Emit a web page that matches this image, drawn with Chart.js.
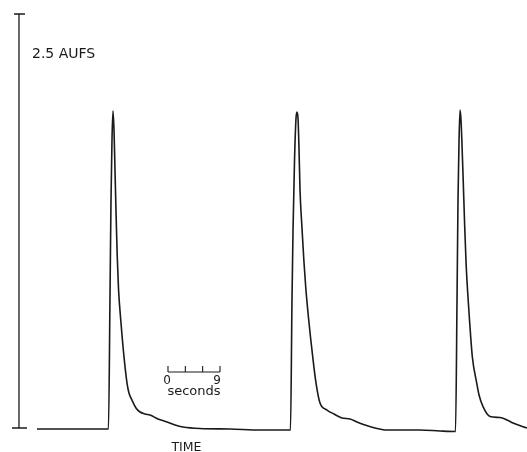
<!DOCTYPE html>
<html>
<head>
<meta charset="utf-8">
<script src="https://cdn.jsdelivr.net/npm/chart.js@4"></script>
<style>
  html, body { margin: 0; padding: 0; background: #fff; }
  canvas { display: block; }
</style>
</head>
<body>
<canvas id="c" width="527" height="452"></canvas>
<script>
// Time (s) and absorbance (AU)
const traceTime = [0, 12.37, 12.63, 12.81, 12.98, 13.15, 13.33, 13.50, 13.67, 13.88, 14.12, 14.54, 15.06, 15.58, 15.92, 16.44, 17.13, 17.83, 18.69, 19.56, 20.94, 22.50, 23.88, 25.27, 28.21, 33.40, 38.59, 43.87,
  44.13, 44.31, 44.57, 44.83, 45.00, 45.17, 45.35, 45.52, 45.86, 46.18, 46.52, 46.99, 47.72, 48.29, 48.98, 50.19, 51.40, 52.79, 54.17, 55.38, 56.77, 58.50, 60.23, 66.29, 69.75, 72.43,
  72.69, 72.86, 73.04, 73.21, 73.38, 73.73, 74.01, 74.25, 74.53, 74.85, 75.34, 76.10, 76.50, 77.19, 78.40, 80.13, 81.34, 82.38, 84.80];
const traceAbs = [0.006, 0.006, 0.781, 1.382, 1.743, 1.917, 1.803, 1.563, 1.322, 1.052, 0.841, 0.643, 0.439, 0.282, 0.222, 0.180, 0.132, 0.108, 0.096, 0.090, 0.066, 0.048, 0.030, 0.018, 0.009, 0.006, 0.000, 0.000,
  0.781, 1.202, 1.623, 1.875, 1.911, 1.875, 1.683, 1.442, 1.214, 1.022, 0.853, 0.673, 0.439, 0.282, 0.162, 0.120, 0.096, 0.072, 0.066, 0.048, 0.030, 0.012, 0.000, 0.000, -0.006, -0.009,
  0.781, 1.382, 1.743, 1.923, 1.863, 1.532, 1.232, 1.010, 0.829, 0.661, 0.439, 0.282, 0.210, 0.140, 0.081, 0.075, 0.060, 0.042, 0.012];

// Full-scale absorbance bar
const fullScale = 2.5;
const fullScaleLabel = '2.5 AUFS';
// Time scale bar (seconds)
const scaleBarTicks = [0, 3, 6, 9];
const scaleBarLabels = ['0', '9'];
const scaleBarUnit = 'seconds';
const axisTitle = 'TIME';

const points = traceTime.map((t, i) => ({ x: t, y: traceAbs[i] }));

const ink = '#1a1a1a';
const font = '"DejaVu Sans", sans-serif';

const annotations = {
  id: 'annotations',
  afterDatasetsDraw(chart) {
    const { ctx, scales: { x, y } } = chart;
    ctx.save();
    ctx.strokeStyle = ink;
    ctx.fillStyle = ink;
    ctx.lineWidth = 1.3;

    // vertical full-scale bar
    const bx = x.getPixelForValue(-3.115);
    const yTop = y.getPixelForValue(fullScale);
    const yBot = y.getPixelForValue(0.012);
    ctx.beginPath();
    ctx.moveTo(bx, yTop); ctx.lineTo(bx, yBot);
    ctx.moveTo(bx - 5, yTop); ctx.lineTo(bx + 6, yTop);
    ctx.moveTo(bx - 7, yBot); ctx.lineTo(bx + 8, yBot);
    ctx.stroke();

    ctx.font = '14px ' + font;
    ctx.textBaseline = 'alphabetic';
    ctx.textAlign = 'left';
    ctx.fillText(fullScaleLabel, bx + 13, yTop + 44);

    // time scale bar
    const t0 = 22.67;
    const sy = y.getPixelForValue(0.349);
    const sx0 = x.getPixelForValue(t0 + scaleBarTicks[0]);
    const sx1 = x.getPixelForValue(t0 + scaleBarTicks[scaleBarTicks.length - 1]);
    ctx.lineWidth = 1.1;
    ctx.beginPath();
    ctx.moveTo(sx0, sy); ctx.lineTo(sx1, sy);
    scaleBarTicks.forEach(v => {
      const px = x.getPixelForValue(t0 + v);
      ctx.moveTo(px, sy); ctx.lineTo(px, sy - 6);
    });
    ctx.stroke();

    ctx.font = '12px ' + font;
    ctx.textAlign = 'center';
    ctx.fillText(scaleBarLabels[0], sx0 - 1, sy + 12);
    ctx.fillText(scaleBarLabels[1], sx1 - 3, sy + 12);
    ctx.font = '13px ' + font;
    ctx.fillText(scaleBarUnit, (sx0 + sx1) / 2, sy + 23);

    // axis title
    ctx.font = '12.5px ' + font;
    ctx.fillText(axisTitle, x.getPixelForValue(25.87), y.getPixelForValue(0) + 21);
    ctx.restore();
  }
};

new Chart(document.getElementById('c'), {
  type: 'line',
  data: {
    datasets: [{
      data: points,
      borderColor: ink,
      borderWidth: 1.6,
      pointRadius: 0,
      fill: false,
      clip: false,
      cubicInterpolationMode: 'monotone'
    }]
  },
  options: {
    responsive: false,
    animation: false,
    layout: { padding: { top: 14, bottom: 22, left: 0, right: 0 } },
    plugins: { legend: { display: false }, tooltip: { enabled: false } },
    scales: {
      x: { type: 'linear', min: -6.4, max: 84.8, display: false },
      y: { type: 'linear', min: 0, max: fullScale, display: false }
    }
  },
  plugins: [annotations]
});
</script>
</body>
</html>
